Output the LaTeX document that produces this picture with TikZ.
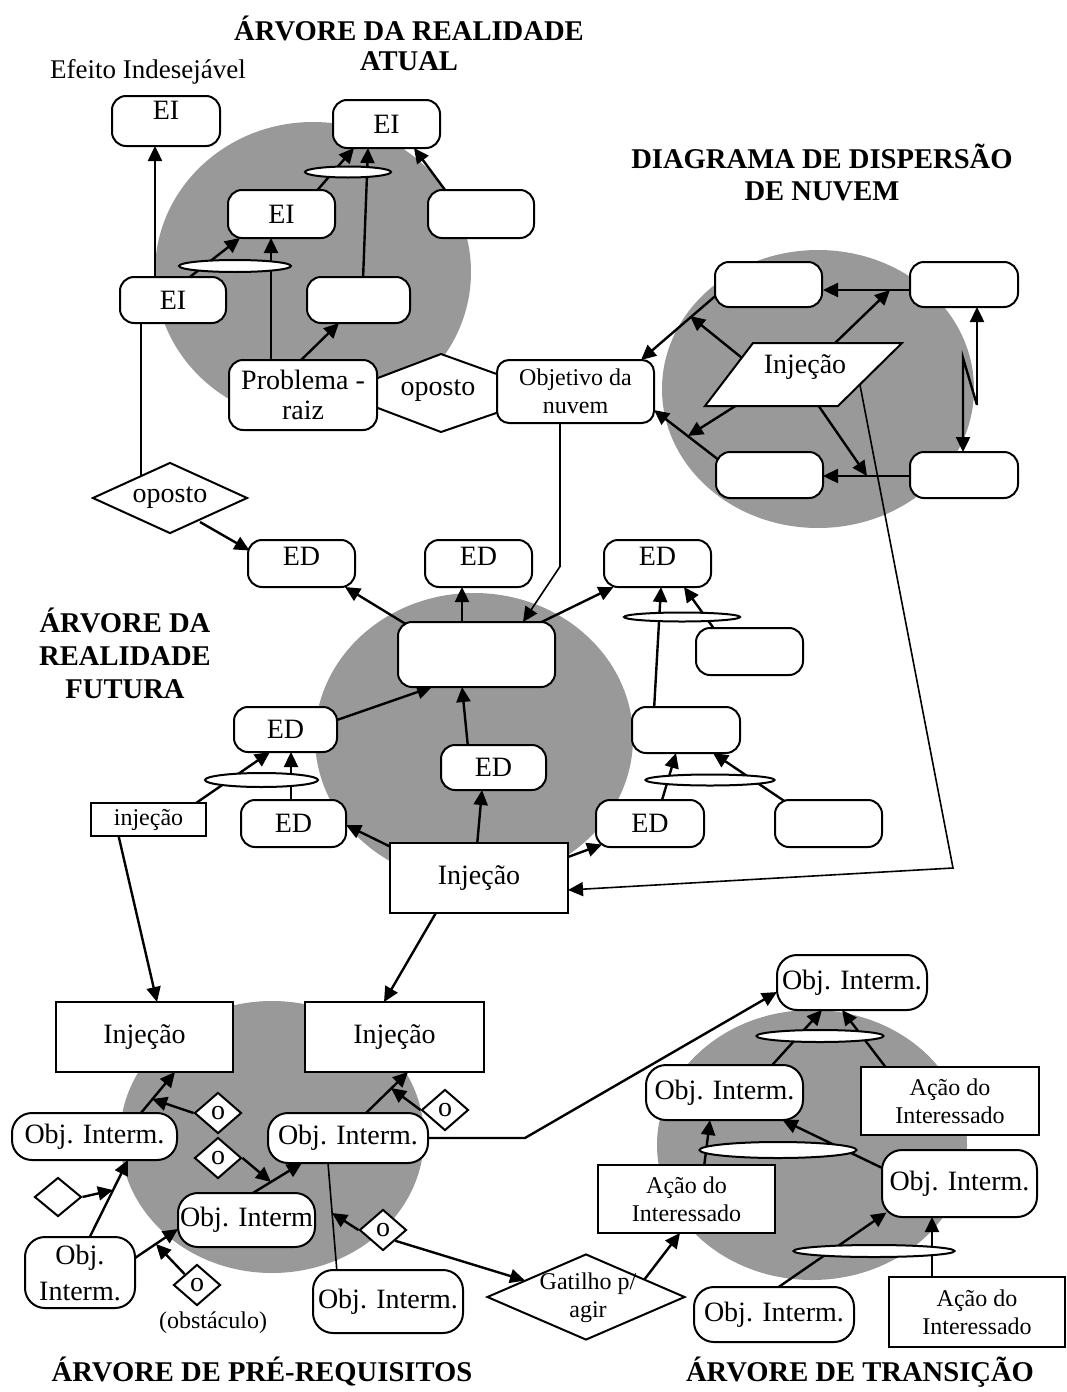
\documentclass[tikz,border=0pt]{standalone}
\usepackage{fontspec}
\setmainfont{Liberation Serif}
\usetikzlibrary{shapes.geometric,arrows.meta}
\pgfdeclarelayer{circ}
\pgfdeclarelayer{lines}
\pgfsetlayers{circ,lines,main}
\newcommand\fntN{\fontsize{14pt}{15pt}\selectfont}
\newcommand\fntS{\fontsize{12pt}{14pt}\selectfont}
\newcommand\fntE{\fontsize{13.5pt}{15pt}\selectfont}
\newcommand\fntT{\fontsize{14.3pt}{16pt}\selectfont\bfseries}
\tikzset{
  sz/.style 2 args={minimum width=#1*0.5pt, minimum height=#2*0.5pt},
  bx/.style={draw, line width=1pt, fill=white, inner sep=0pt, align=center, font=\fntN},
  rbx/.style={bx, rounded corners=7pt},
  obx/.style={bx, rounded corners=10pt},
  jn/.style={draw, ellipse, line width=1pt, fill=white, inner sep=0pt},
  dia/.style={draw, diamond, line width=1pt, fill=white, inner sep=0pt, font=\fntN},
  bgc/.style={ellipse, fill=black!40, inner sep=0pt},
  arr/.style={line width=1.2pt, -{Triangle[length=7.5pt,width=7pt]}},
  arrt/.style={line width=0.8pt, -{Triangle[length=7.5pt,width=7pt]}},
  ln/.style={line width=0.8pt},
  ttl/.style={font=\fntT, align=center},
}
\begin{document}
\begin{tikzpicture}[x=0.5pt,y=-0.5pt]
\useasboundingbox (0,0) rectangle (1066,1392);

% ---------- titles and free texts
\node[ttl] (tA) at (409,43) {ÁRVORE DA REALIDADE\\[-1pt]ATUAL};
\node[ttl] (tB) at (822,172) {DIAGRAMA DE DISPERSÃO\\DE NUVEM};
\node[ttl] (tF) at (125,653) {ÁRVORE DA\\[0.5pt]REALIDADE\\[0.5pt]FUTURA};
\node[ttl] (tP) at (262,1372) {ÁRVORE DE PRÉ-REQUISITOS};
\node[ttl] (tT) at (860,1372) {ÁRVORE DE TRANSIÇÃO};
\node[font=\fntE] (efe) at (148,72) {Efeito Indesejável};

% ---------- Arvore da realidade atual
\draw[line width=1pt, fill=white] (370,381) -- (441,354) -- (505,377) -- (505,410) -- (441,432) -- (370,405) -- cycle;
\node[font=\fntN] (opo) at (438,391) {oposto};
\node[rbx, sz={108}{50}] (ei1) at (166,121) {\raisebox{0.9pt}[0pt][0pt]{EI}};
\node[rbx, sz={107}{48}] (ei2) at (386.5,124) {EI};
\node[rbx, sz={107}{48}] (ei3) at (281.5,214) {EI};
\node[rbx, sz={106}{48}] (b1) at (481,214) {};
\node[rbx, sz={106}{46}] (ei4) at (173,300) {EI};
\node[rbx, sz={103}{46}] (b2) at (358.5,300) {};
\node[rbx, sz={148}{70}] (prob) at (303,395) {Problema -\\raiz};
\node[rbx, sz={157}{63}, font=\fntS, rounded corners=6pt] (obj) at (575.5,391.5) {Objetivo da\\nuvem};
\node[jn, sz={112}{12}] (el1) at (235,266) {};
\node[jn, sz={86}{11}] (el2) at (348,172) {};
\node[dia, sz={155}{71}, aspect=2.2] (dop) at (170,498) {oposto};

% ---------- Diagrama de dispersao de nuvem
\draw[line width=1pt, fill=white] (753,343) -- (902,343) -- (838,406) -- (705,406) -- cycle;
\node[font=\fntN] (cinj) at (805,367) {Injeção};
\node[rbx, sz={107}{45}] (c1) at (768.5,284.5) {};
\node[rbx, sz={108}{45}] (c2) at (964,284.5) {};
\node[rbx, sz={107}{46}] (c3) at (769.5,475) {};
\node[rbx, sz={108}{46}] (c4) at (964,475) {};

% ---------- Arvore da realidade futura
\node[rbx, sz={107}{47}] (ed1) at (301.5,563.5) {\raisebox{-0.85pt}[0pt][0pt]{ED}};
\node[rbx, sz={107}{47}] (ed2) at (478.5,563.5) {\raisebox{-0.85pt}[0pt][0pt]{ED}};
\node[rbx, sz={107}{47}] (ed3) at (657.5,563.5) {\raisebox{-0.85pt}[0pt][0pt]{ED}};
\node[rbx, sz={157}{65}] (cb) at (476.5,654.5) {};
\node[rbx, sz={103}{45}] (ed4) at (285.5,729.5) {ED};
\node[rbx, sz={105}{45}] (ed5) at (493.5,767.5) {ED};
\node[rbx, sz={105}{47}] (ed6) at (293.5,823.5) {ED};
\node[bx, sz={178}{70}] (inj) at (479,878) {Injeção};
\node[bx, sz={115}{33}, font=\fntS] (injs) at (148.5,819.5) {injeção};
\node[rbx, sz={107}{47}] (r1) at (749.5,651.5) {};
\node[rbx, sz={108}{46}] (r2) at (686,730) {};
\node[rbx, sz={108}{47}] (ed7) at (650,823.5) {ED};
\node[rbx, sz={107}{47}] (r3) at (828.5,823.5) {};
\node[jn, sz={113}{14}] (elA) at (261.5,780) {};
\node[jn, sz={116}{9}] (elB) at (682,617) {};
\node[jn, sz={129}{11}] (elC) at (710,780) {};

% ---------- Arvore de pre-requisitos
\node[bx, sz={177}{70}] (inj1) at (144.5,1037) {Injeção};
\node[bx, sz={179}{70}] (inj2) at (394.5,1037) {Injeção};
\node[obx, sz={165}{47}] (objA) at (94.5,1136.5) {Obj. Interm.};
\node[obx, sz={160}{50}] (objB) at (348,1138) {Obj. Interm.};
\node[obx, sz={137}{54}] (objC) at (246.5,1220) {Obj. Interm};
\node[obx, sz={110}{71}] (objD) at (80,1272.5) {Obj.\\[3pt]Interm.};
\node[obx, sz={150}{63}] (objE) at (388,1301.5) {Obj. Interm.};
\node[dia, sz={47}{41}] (d1) at (218,1113) {o};
\node[dia, sz={47}{41}] (d2) at (445,1110) {o};
\node[dia, sz={47}{41}] (d3) at (218,1158) {o};
\node[dia, sz={47}{39}] (d4) at (58,1197) {};
\node[dia, sz={47}{41}] (d5) at (383,1230) {o};
\node[dia, sz={47}{41}] (d6) at (197,1285) {o};
\node[font=\fntS] (obst) at (213,1323) {(obstáculo)};
\node[dia, sz={198}{86}] (gat) at (586,1297) {};
\node[font=\fntS, align=center] (gatt) at (588,1298) {Gatilho p/\\agir};

% ---------- Arvore de transicao
\node[obx, sz={150}{55}] (t1) at (852,982.5) {Obj. Interm.};
\node[obx, sz={157}{55}] (t2) at (724.5,1092.5) {Obj. Interm.};
\node[obx, sz={155}{67}] (t3) at (959.5,1183.5) {Obj. Interm.};
\node[obx, sz={160}{55}] (t4) at (774,1314.5) {Obj. Interm.};
\node[bx, sz={178}{68}, font=\fntS] (a1) at (950,1101) {Ação do\\Interessado};
\node[bx, sz={177}{68}, font=\fntS] (a2) at (686.5,1199) {Ação do\\Interessado};
\node[bx, sz={176}{70}, font=\fntS] (a3) at (977,1312) {Ação do\\Interessado};
\node[jn, sz={127}{12}] (eT1) at (820,1036) {};
\node[jn, sz={157}{16}] (eT2) at (778,1150) {};
\node[jn, sz={161}{12}] (eT3) at (874,1251) {};

% ---------- free ends
\coordinate (k1) at (890,290);
\coordinate (k2) at (690,316);
\coordinate (k3) at (688,436);
\coordinate (k4) at (867,476);
\coordinate (k5) at (977,405);
\coordinate (kc) at (953,868);
\coordinate (kp1) at (152,1099);
\coordinate (kp2) at (391,1088);
\coordinate (kp3) at (271,1182);
\coordinate (kp4) at (113,1190);
\coordinate (kp5) at (332,1213);
\coordinate (kp6) at (156,1244);

% ---------- background discs
\begin{pgfonlayer}{circ}
\node[bgc, sz={316}{300}] (bgA) at (313,272) {};
\node[bgc, sz={312}{278}] (bgB) at (818,389) {};
\node[bgc, sz={318}{290}] (bgF) at (474,738) {};
\node[bgc, sz={304}{272}] (bgP) at (272,1137) {};
\node[bgc, sz={310}{270}] (bgT) at (812,1145) {};
\end{pgfonlayer}

% ---------- connectors
\begin{pgfonlayer}{lines}
% ARA
\draw[arr] ([shift={(-18,-20)}]ei4.center) -- ([shift={(-11,25)}]ei1.center);
\draw[arr] ([shift={(13,-20)}]ei4.center) -- ([shift={(-41.5,24)}]ei3.center);
\draw[arr] ([shift={(-32,-30)}]prob.center) -- ([shift={(-10.5,24)}]ei3.center);
\draw[arr] ([shift={(-7,-30)}]prob.center) -- ([shift={(-19.5,23)}]b2.center);
\draw[arr] ([shift={(32.5,-20)}]ei3.center) -- ([shift={(-32.5,24)}]ei2.center);
\draw[arr] ([shift={(4.5,-20)}]b2.center) -- ([shift={(-18.5,24)}]ei2.center);
\draw[arr] ([shift={(-33,-20)}]b1.center) -- ([shift={(27.5,24)}]ei2.center);
\draw[ln] ([shift={(-32,20)}]ei4.center) -- ([shift={(-29,-21)}]dop.center);
\draw[arr] ([shift={(30,24)}]dop.center) -- ([shift={(-52,-13)}]ed1.center);
% cloud
\draw[arr] ([shift={(28,-22)}]cinj.center) -- (k1);
\draw[arr] ([shift={(-54,5.5)}]c2.center) -- ([shift={(54.5,5.5)}]c1.center);
\draw[arr] ([shift={(-58,-5)}]cinj.center) -- (k2);
\draw[arr] ([shift={(-52,10.5)}]c1.center) -- ([shift={(65.5,-31.5)}]obj.center);
\draw[arr] ([shift={(-68,38)}]cinj.center) -- (k3);
\draw[arr] ([shift={(-52,-16)}]c3.center) -- ([shift={(78.5,18.5)}]obj.center);
\draw[arr] ([shift={(-54,1)}]c4.center) -- ([shift={(53.5,1)}]c3.center);
\draw[arr] ([shift={(13,38)}]cinj.center) -- (k4);
\draw[arr] (k5) -- ([shift={(13,22.5)}]c2.center);
\draw[arr] (k5) -- ++(-14,-47) -- ([shift={(-1,-23)}]c4.center);
\draw[arrt] ([shift={(55,18)}]cinj.center) -- (kc) -- ([shift={(89,12)}]inj.center);
% ARF
\draw[arr] ([shift={(-70,-30)}]cb.center) -- ([shift={(43.5,23.5)}]ed1.center);
\draw[arr] ([shift={(-14.5,-30)}]cb.center) -- ([shift={(-16.5,23.5)}]ed2.center);
\draw[arr] ([shift={(60,-30)}]cb.center) -- ([shift={(-44,23.5)}]ed3.center);
\draw[arrt] ([shift={(-15.5,28)}]obj.center) -- ++(0,147) -- ([shift={(46.5,-32.5)}]cb.center);
\draw[arr] ([shift={(50,-9)}]ed4.center) -- ([shift={(-44.5,32.5)}]cb.center);
\draw[arr] ([shift={(-25.5,-20)}]ed5.center) -- ([shift={(-14.5,32.5)}]cb.center);
\draw[arr] ([shift={(-2,-32)}]inj.center) -- ([shift={(-11.5,22.5)}]ed5.center);
\draw[arr] ([shift={(-86,-30)}]inj.center) -- ([shift={(52.5,1.5)}]ed6.center);
\draw[arr] ([shift={(89,-21)}]inj.center) -- ([shift={(-48,21)}]ed7.center);
\draw[arr] ([shift={(44,-14)}]injs.center) -- ([shift={(-15.5,22.5)}]ed4.center);
\draw[arr] ([shift={(-2.5,-20)}]ed6.center) -- ([shift={(5.5,22.5)}]ed4.center);
\draw[arr] ([shift={(-32,-20)}]r2.center) -- ([shift={(3.5,23.5)}]ed3.center);
\draw[arr] ([shift={(-33.5,-20)}]r1.center) -- ([shift={(26.5,23.5)}]ed3.center);
\draw[arr] ([shift={(11,-20)}]ed7.center) -- ([shift={(-10,23)}]r2.center);
\draw[arr] ([shift={(-40.5,-20)}]r3.center) -- ([shift={(27,23)}]r2.center);
\draw[arr] ([shift={(-30.5,14)}]injs.center) -- ([shift={(12.5,-35)}]inj1.center);
\draw[arr] ([shift={(-42,33)}]inj.center) -- ([shift={(-10.5,-35)}]inj2.center);
% PRT
\draw[arr] ([shift={(43.5,-20)}]objA.center) -- ([shift={(30.5,35)}]inj1.center);
\draw[arr] (d1.west) -- (kp1);
\draw[arr] ([shift={(15,-22)}]objB.center) -- ([shift={(13.5,35)}]inj2.center);
\draw[arr] (d2.west) -- (kp2);
\draw[arr] ([shift={(1.5,-24)}]objC.center) -- ([shift={(-46,25)}]objB.center);
\draw[arr] (d3.east) -- (kp3);
\draw[arr] ([shift={(7,-30)}]objD.center) -- ([shift={(33.5,23.5)}]objA.center);
\draw[arr] (d4.east) -- (kp4);
\draw[arr] ([shift={(52,-12.5)}]objD.center) -- ([shift={(-68.5,9)}]objC.center);
\draw[arr] (d6.north west) -- (kp6);
\draw[ln] ([shift={(-51,-29)}]objE.center) -- ([shift={(-20,25)}]objB.center);
\draw[arr] (d5.west) -- (kp5);
\draw[arr] (d5.south east) -- ([shift={(-61,-16.5)}]gat.center);
\draw[arr] (objB.east) -- ++(96,0) -- ([shift={(-75,9.5)}]t1.center);
% transition
\draw[arr] ([shift={(45.5,-25)}]t2.center) -- ([shift={(-30,27.5)}]t1.center);
\draw[arr] ([shift={(-63,-32)}]a1.center) -- ([shift={(-10,27.5)}]t1.center);
\draw[arr] ([shift={(17.5,-32)}]a2.center) -- ([shift={(-14.5,27.5)}]t2.center);
\draw[arr] ([shift={(-70,-12)}]t3.center) -- ([shift={(58,27.5)}]t2.center);
\draw[arr] ([shift={(1,-25)}]t4.center) -- ([shift={(-73,29)}]t3.center);
\draw[arr] ([shift={(-45,-33)}]a3.center) -- ([shift={(-27.5,33.5)}]t3.center);
\draw[arr] ([shift={(58,-17)}]gat.center) -- ([shift={(-6.5,34)}]a2.center);
\end{pgfonlayer}
\end{tikzpicture}
\end{document}
